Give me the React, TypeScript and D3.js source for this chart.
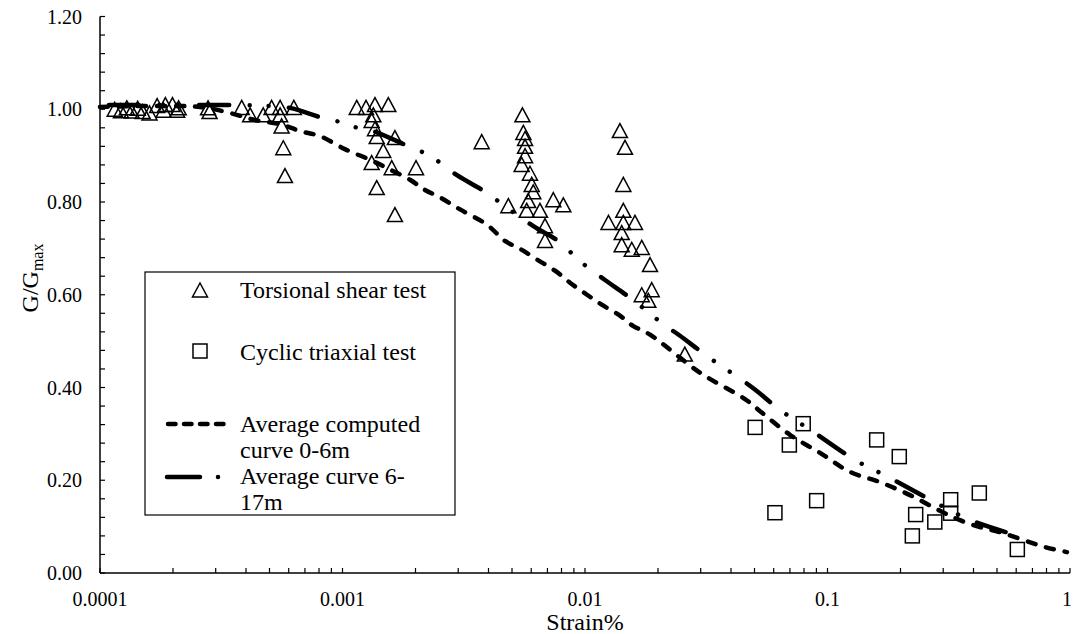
import React from "react";
import * as d3 from "d3";

// Torsional shear test results (strain %, G/Gmax)
const torsionalStrain = [
  0.000115, 0.000122, 0.000129, 0.000135, 0.000143, 0.00015, 0.00016, 0.000172, 0.000183, 0.000186, 0.000199, 0.000208, 0.000211,
  0.000279, 0.000283,
  0.000384, 0.000416, 0.000471, 0.00051, 0.000553, 0.000553, 0.000561, 0.00063, 0.00057, 0.000579,
  0.001145, 0.00125, 0.001361, 0.001545, 0.00134, 0.001319, 0.001361, 0.001384, 0.001645, 0.001473, 0.001319, 0.001596, 0.00201, 0.001384, 0.001645,
  0.00375, 0.00483,
  0.00552, 0.00557, 0.00566, 0.00566, 0.00566, 0.00548, 0.00593, 0.00603, 0.00612, 0.00583, 0.00575, 0.00652, 0.0074, 0.00814, 0.00684, 0.00684,
  0.01393, 0.01462, 0.01439, 0.01439, 0.0125, 0.01439, 0.01607, 0.01417, 0.01417, 0.01559, 0.01714, 0.01854, 0.01714, 0.01884, 0.01824,
  0.0258,
];
const torsionalRatio = [
  1.0, 0.997, 1.003, 0.996, 1.002, 0.995, 0.992, 1.008, 0.998, 1.01, 1.01, 0.998, 1.003,
  1.003, 0.995,
  1.004, 0.988, 0.988, 1.004, 1.004, 0.988, 0.964, 1.004, 0.917, 0.857,
  1.004, 1.004, 1.01, 1.01, 0.988, 0.976, 0.958, 0.941, 0.939, 0.911, 0.885, 0.874, 0.874, 0.831, 0.773,
  0.93, 0.792,
  0.988, 0.95, 0.937, 0.92, 0.9, 0.881, 0.862, 0.838, 0.822, 0.803, 0.782, 0.782, 0.805, 0.794, 0.749, 0.717,
  0.954, 0.918, 0.838, 0.782, 0.756, 0.756, 0.756, 0.734, 0.708, 0.698, 0.702, 0.665, 0.6, 0.611, 0.588,
  0.472,
];

// Cyclic triaxial test results
const triaxialStrain = [0.0503, 0.0607, 0.0696, 0.0794, 0.0902, 0.1595, 0.1977, 0.2238, 0.231, 0.277, 0.322, 0.322, 0.4227, 0.6065];
const triaxialRatio = [0.314, 0.13, 0.276, 0.322, 0.156, 0.287, 0.251, 0.08, 0.126, 0.11, 0.158, 0.129, 0.1725, 0.0507];

// Average computed curve, 0-6 m
const curveShallowStrain = [
  0.0001, 0.000258, 0.000343, 0.000435, 0.000552, 0.000668, 0.000807, 0.001023, 0.001298, 0.001569, 0.001898, 0.002188, 0.002523,
  0.003053, 0.003945, 0.004677, 0.005395, 0.006339, 0.007519, 0.008668, 0.01019, 0.01186, 0.01393, 0.01577, 0.01854, 0.02979,
  0.04571, 0.0527, 0.07, 0.09311, 0.1239, 0.1645, 0.2188, 0.2911, 0.3519, 0.4254, 0.5143, 0.788, 0.9719,
];
const curveShallowRatio = [
  1.005, 1.005, 0.992, 0.977, 0.968, 0.953, 0.942, 0.914, 0.891, 0.87, 0.848, 0.826, 0.81,
  0.784, 0.751, 0.716, 0.699, 0.676, 0.652, 0.626, 0.6, 0.577, 0.555, 0.533, 0.514, 0.432,
  0.375, 0.349, 0.298, 0.259, 0.218, 0.196, 0.168, 0.134, 0.114, 0.099, 0.088, 0.056, 0.045,
];

// Average curve, 6-17 m
const curveDeepStrain = [
  0.0001, 0.0003536, 0.000502, 0.000607, 0.000831, 0.000977, 0.001159, 0.001336, 0.001899, 0.002231, 0.002572, 0.002966,
  0.003945, 0.004546, 0.006105, 0.008114, 0.009095, 0.01049, 0.01209, 0.01578, 0.01819, 0.02097, 0.02441, 0.03184,
  0.04929, 0.06369, 0.08632, 0.1299, 0.181, 0.291, 0.387, 0.6339,
];
const curveDeepRatio = [
  1.009, 1.009, 1.007, 1.003, 0.981, 0.9725, 0.9596, 0.953, 0.9186, 0.903, 0.882, 0.8577,
  0.8194, 0.7957, 0.7483, 0.709, 0.6814, 0.6555, 0.6318, 0.5887, 0.5628, 0.5369, 0.5132, 0.4679,
  0.3989, 0.3515, 0.3062, 0.2437, 0.2049, 0.1466, 0.1143, 0.0776,
];

const xTickValues = [0.0001, 0.001, 0.01, 0.1, 1];
const xTickLabels = ["0.0001", "0.001", "0.01", "0.1", "1"];
const yTickValues = [0, 0.2, 0.4, 0.6, 0.8, 1.0, 1.2];
const yTickLabels = ["0.00", "0.20", "0.40", "0.60", "0.80", "1.00", "1.20"];

const legendLabels = {
  torsional: "Torsional shear test",
  triaxial: "Cyclic triaxial test",
  shallow: ["Average computed", "curve 0-6m"],
  deep: ["Average curve 6-", "17m"],
};

const W = 1073;
const H = 634;
const FONT = "'Liberation Serif', 'Times New Roman', serif";

const x = d3.scaleLog().domain([0.0001, 1]).range([100, 1070]);
const y = d3.scaleLinear().domain([0, 1.2]).range([573, 16.5]);

const TRI_W = 15;
const TRI_H = 14;
const SQ = 14;

function trianglePath(cx: number, cy: number) {
  const p = d3.path();
  p.moveTo(cx, cy - TRI_H / 2);
  p.lineTo(cx + TRI_W / 2, cy + TRI_H / 2);
  p.lineTo(cx - TRI_W / 2, cy + TRI_H / 2);
  p.closePath();
  return p.toString();
}

const shallowDash = "8 11";
const deepDash = "30 20.5 0.01 19 0.01 20.5";

export default function App() {
  const lineGen = d3
    .line<[number, number]>()
    .x((d) => x(d[0]))
    .y((d) => y(d[1]))
    .curve(d3.curveCatmullRom.alpha(0.5));

  const shallowPts = curveShallowStrain.map((s, i) => [s, curveShallowRatio[i]] as [number, number]);
  const deepPts = curveDeepStrain.map((s, i) => [s, curveDeepRatio[i]] as [number, number]);

  const minorX = x.ticks().filter((t) => t >= 0.0001 && t <= 1);
  const minorY = d3.range(0, 1.2001, 0.04);

  return (
    <svg
      width={W}
      height={H}
      style={{ position: "absolute", left: 0, top: 0, background: "#fff" }}
      fontFamily={FONT}
    >
      <rect x={0} y={0} width={W} height={H} fill="#fff" />

      {/* axes */}
      <line x1={100} x2={100} y1={y(1.2)} y2={y(0)} stroke="#000" strokeWidth={1.5} />
      <line x1={100} x2={1070} y1={y(0)} y2={y(0)} stroke="#000" strokeWidth={1.5} />
      {minorY.map((v, i) => (
        <line key={"yt" + i} x1={100} x2={105} y1={y(v)} y2={y(v)} stroke="#000" strokeWidth={1.2} />
      ))}
      {minorX.map((v, i) => (
        <line key={"xt" + i} x1={x(v)} x2={x(v)} y1={y(0)} y2={y(0) - 5} stroke="#000" strokeWidth={1.2} />
      ))}
      {yTickValues.map((v, i) => (
        <text key={"yl" + i} x={82} y={y(v)} dy="0.35em" textAnchor="end" fontSize={20}>
          {yTickLabels[i]}
        </text>
      ))}
      {xTickValues.map((v, i) => (
        <text key={"xl" + i} x={Math.min(x(v), 1067)} y={606} textAnchor="middle" fontSize={20}>
          {xTickLabels[i]}
        </text>
      ))}
      <text x={x(0.01)} y={630} textAnchor="middle" fontSize={24}>
        Strain%
      </text>
      <text transform="translate(38,278) rotate(-90)" textAnchor="middle" fontSize={24}>
        G/G
        <tspan fontSize={16} dy={5}>
          max
        </tspan>
      </text>

      {/* markers */}
      {torsionalStrain.map((s, i) => (
        <path key={"t" + i} d={trianglePath(x(s), y(torsionalRatio[i]))} fill="none" stroke="#000" strokeWidth={1.5} />
      ))}
      {triaxialStrain.map((s, i) => (
        <rect
          key={"q" + i}
          x={x(s) - SQ / 2}
          y={y(triaxialRatio[i]) - SQ / 2}
          width={SQ}
          height={SQ}
          fill="none"
          stroke="#000"
          strokeWidth={1.5}
        />
      ))}

      {/* curves */}
      <path d={lineGen(shallowPts) || ""} fill="none" stroke="#000" strokeWidth={4.5} strokeDasharray={shallowDash} strokeLinecap="round" />
      <path
        d={lineGen(deepPts) || ""}
        fill="none"
        stroke="#000"
        strokeWidth={4.5}
        strokeDasharray={deepDash}
        strokeDashoffset={81}
        strokeLinecap="round"
      />

      {/* legend */}
      <rect x={145} y={272} width={310} height={243} fill="#fff" stroke="#000" strokeWidth={1.2} />
      <path d={trianglePath(200, 290)} fill="none" stroke="#000" strokeWidth={1.5} />
      <text x={240} y={298} fontSize={24}>{legendLabels.torsional}</text>
      <rect x={200 - SQ / 2} y={351 - SQ / 2} width={SQ} height={SQ} fill="none" stroke="#000" strokeWidth={1.5} />
      <text x={240} y={360} fontSize={24}>{legendLabels.triaxial}</text>
      <line x1={168} x2={225} y1={424} y2={424} stroke="#000" strokeWidth={4.5} strokeDasharray="7.5 8.5" strokeLinecap="round" />
      <text x={240} y={432} fontSize={24}>{legendLabels.shallow[0]}</text>
      <text x={240} y={458} fontSize={24}>{legendLabels.shallow[1]}</text>
      <line x1={167} x2={220} y1={477} y2={477} stroke="#000" strokeWidth={4.5} strokeDasharray="33 18 0.01 100" strokeLinecap="round" />
      <text x={240} y={484} fontSize={24}>{legendLabels.deep[0]}</text>
      <text x={240} y={510} fontSize={24}>{legendLabels.deep[1]}</text>
    </svg>
  );
}
